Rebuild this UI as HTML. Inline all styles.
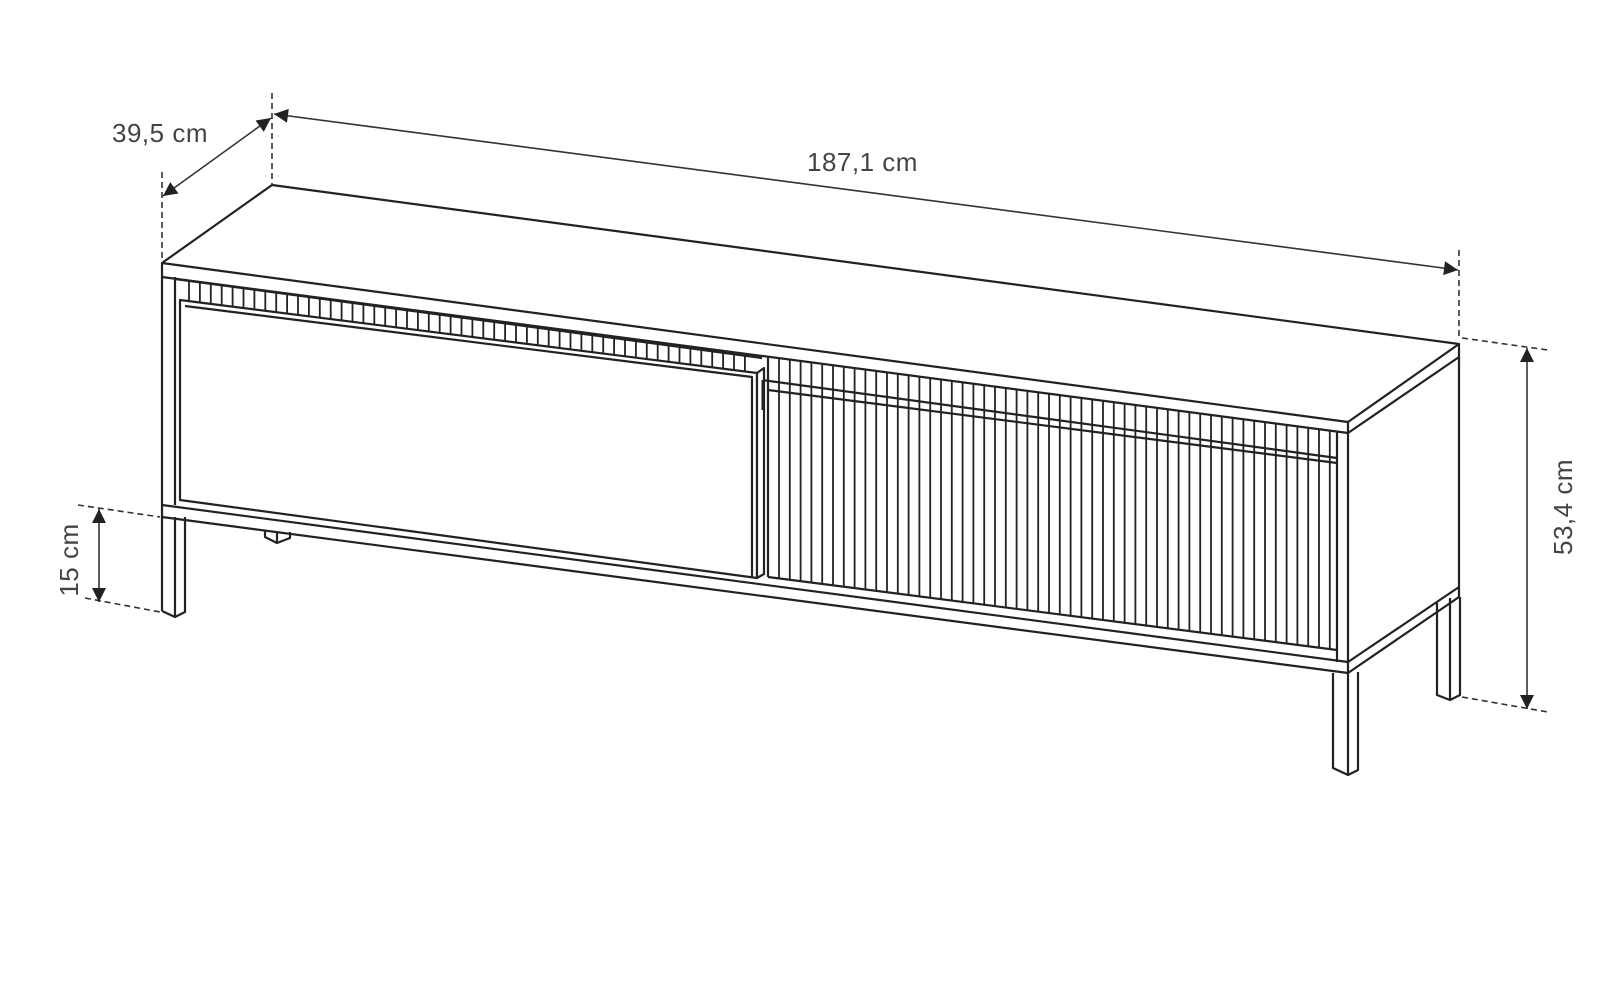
<!DOCTYPE html>
<html><head><meta charset="utf-8"><style>
html,body{margin:0;padding:0;background:#fff;}
svg{display:block;}
text{font-family:"Liberation Sans",sans-serif;fill:#444;font-size:26px;letter-spacing:0.5px;}
</style></head><body>
<svg id="s" width="1600" height="994" viewBox="0 0 1600 994" xmlns="http://www.w3.org/2000/svg">
<defs>
<marker id="ah" viewBox="0 0 10 10" refX="10" refY="5" markerWidth="17" markerHeight="14" markerUnits="userSpaceOnUse" orient="auto-start-reverse">
<path d="M0,0 L10,5 L0,10 z" fill="#222"/></marker>
</defs>
<g id="draw" stroke="#222" stroke-width="2.2" fill="none" stroke-linejoin="round">
<polygon points="162,263 272,185 1459,344 1348,422" fill="#fff"/>
<line x1="162" y1="277" x2="1348" y2="433"/>
<line x1="1348" y1="433" x2="1459" y2="357"/>
<line x1="1459" y1="344" x2="1459" y2="597"/>
<line x1="1348" y1="662" x2="1459" y2="587"/>
<line x1="1348" y1="673" x2="1459" y2="597"/>
<line x1="162" y1="263" x2="162" y2="611"/>
<line x1="175" y1="277" x2="175" y2="505"/>
<line x1="1348" y1="422" x2="1348" y2="775"/>
<line x1="1337" y1="431" x2="1337" y2="662"/>
<line x1="162" y1="505" x2="1348" y2="662"/>
<line x1="162" y1="517" x2="1348" y2="673"/>
<line x1="768" y1="577" x2="1337" y2="650"/>
<polyline points="162,611 175,617 185,612 185,517"/>
<line x1="175" y1="517" x2="175" y2="617"/>
<polyline points="265,530 265,537 277,543 290,538 290,532"/>
<line x1="277" y1="533" x2="277" y2="543"/>
<polyline points="1333,673 1333,768 1348,775 1358,770 1358,672"/>
<polyline points="1437,603 1437,695 1450,700 1460,695 1460,597"/>
<line x1="1450" y1="598" x2="1450" y2="700"/>
<line x1="175" y1="279" x2="762" y2="358"/>
<line x1="762" y1="380" x2="1337" y2="458"/>
<line x1="768" y1="390" x2="1337" y2="463"/>
<line x1="768" y1="356" x2="768" y2="577"/>
<polygon points="180,300 757,373 757,578 180,500" fill="#fff"/>
<polyline points="185,306 752,377 752,577"/>
<polygon points="757,373 764,368 764,574 757,578" fill="#fff"/>
<line x1="763" y1="380" x2="763" y2="410" stroke-width="3"/>
</g>
<g stroke="#333" stroke-width="1.6" fill="none">
<line x1="162" y1="172" x2="162" y2="263" stroke-dasharray="6,4"/>
<line x1="272" y1="93" x2="272" y2="185" stroke-dasharray="6,4"/>
<line x1="1459" y1="250" x2="1459" y2="340" stroke-dasharray="6,4"/>
<line x1="1462" y1="338" x2="1548" y2="350" stroke-dasharray="6,4"/>
<line x1="1462" y1="697" x2="1548" y2="712" stroke-dasharray="6,4"/>
<line x1="78" y1="505" x2="160" y2="517" stroke-dasharray="6,4"/>
<line x1="85" y1="598" x2="160" y2="612" stroke-dasharray="6,4"/>
<line x1="163" y1="196" x2="271" y2="118" marker-start="url(#ah)" marker-end="url(#ah)"/>
<line x1="274" y1="114" x2="1458" y2="270" marker-start="url(#ah)" marker-end="url(#ah)"/>
<line x1="1527" y1="348" x2="1527" y2="709" marker-start="url(#ah)" marker-end="url(#ah)"/>
<line x1="99" y1="509" x2="99" y2="602" marker-start="url(#ah)" marker-end="url(#ah)"/>
</g>
<text x="112" y="142">39,5 cm</text>
<text x="807" y="171">187,1 cm</text>
<text transform="translate(1572,507) rotate(-90)" text-anchor="middle">53,4 cm</text>
<text transform="translate(78,560) rotate(-90)" text-anchor="middle">15 cm</text>
<g id="fl" stroke="#222" stroke-width="1.8"></g>
</svg>
<script>
var g=document.getElementById('fl'),ns='http://www.w3.org/2000/svg';
function L(x1,y1,x2,y2){var l=document.createElementNS(ns,'line');l.setAttribute('x1',x1);l.setAttribute('y1',y1);l.setAttribute('x2',x2);l.setAttribute('y2',y2);g.appendChild(l);}
for(var x=189;x<752;x+=10.9){var yt=279+(x-175)*0.1346;var yb=300+(x-180)*0.1265;L(x,yt,x,yb);}
for(var x=779;x<1334;x+=10.8){var yt=277+(x-162)*0.1315;var yb=577+(x-768)*0.1283;L(x,yt,x,yb);}
</script>
</body></html>
